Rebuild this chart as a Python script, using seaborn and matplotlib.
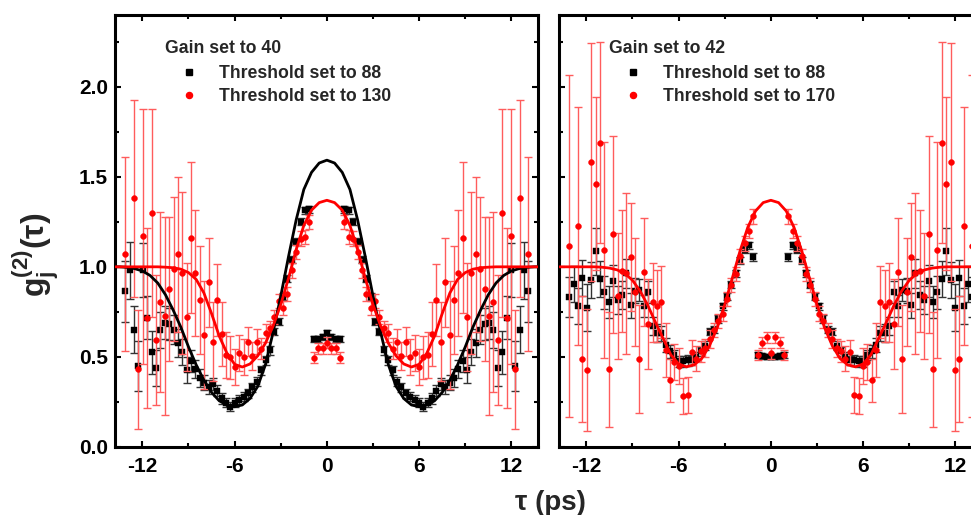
import numpy as np
import pandas as pd
import matplotlib
matplotlib.use("Agg")
import matplotlib.pyplot as plt
import seaborn as sns
from matplotlib.lines import Line2D
from matplotlib.ticker import MultipleLocator, FormatStrFormatter

# ---------------- data (negative half, mirrored: g2 is symmetric) ----------------
BIN_PS = 0.285
bin_k = np.arange(-46, 1)  # bins -46 .. 0

# Gain 40 panel
g40_thr88 = [0.865, 0.98, 0.65, 0.45, 0.985, 0.717, 0.526, 0.435, 0.647, 0.69,
             0.683, 0.65, 0.576, 0.526, 0.426, 0.476, 0.433, 0.38, 0.356, 0.333,
             0.348, 0.311, 0.27, 0.245, 0.222, 0.245, 0.26, 0.278, 0.296, 0.33,
             0.36, 0.426, 0.48, 0.537, 0.64, 0.695, 0.833, 0.935, 1.04, 1.14,
             1.25, 1.315, 1.32, 0.60, 0.60, 0.61, 0.63]
g40_thr88_err = [0.17, 0.16, 0.13, 0.14, 0.15, 0.12, 0.12, 0.10, 0.10, 0.09,
                 0.09, 0.08, 0.08, 0.07, 0.07, 0.06, 0.05, 0.05, 0.04, 0.04,
                 0.035, 0.03, 0.03, 0.025, 0.025, 0.025, 0.025, 0.025, 0.025, 0.025,
                 0.025, 0.025, 0.025, 0.025, 0.02, 0.02, 0.02, 0.02, 0.02, 0.02,
                 0.02, 0.02, 0.02, 0.018, 0.018, 0.018, 0.018]
g40_thr130 = [1.07, np.nan, 1.38, 0.43, 1.17, 0.715, 1.30, 0.593, 0.806, 0.728,
              0.878, 0.987, 1.069, 0.967, 0.722, 1.163, 0.967, 0.815, 0.62, 0.913,
              0.583, 0.815, 0.626, 0.51, 0.497, 0.444, 0.519, 0.50, 0.583, 0.504,
              0.583, 0.545, 0.63, 0.66, 0.72, 0.81, 0.77, 0.85, 0.98, 1.083,
              1.157, 1.167, 1.25, 0.495, 0.547, 0.547, 0.578]
g40_thr130_err = [0.54, 0.50, 0.55, 0.33, 0.71, 0.50, 0.58, 0.36, 0.50, 0.55,
                  0.40, 0.40, 0.43, 0.45, 0.30, 0.42, 0.35, 0.30, 0.30, 0.25,
                  0.22, 0.20, 0.18, 0.13, 0.12, 0.10, 0.10, 0.10, 0.08, 0.08,
                  0.07, 0.06, 0.05, 0.04, 0.04, 0.04, 0.04, 0.04, 0.04, 0.04,
                  0.04, 0.04, 0.04, 0.03, 0.03, 0.03, 0.03]

# Gain 42 panel
g42_thr88 = [0.833, 0.907, 0.783, 0.939, 0.772, 0.926, 1.087, 0.93, 0.858, 0.806,
             0.921, 0.815, 0.843, 0.963, 0.787, 0.867, 0.87, 0.783, 0.861, 0.67,
             0.63, 0.63, 0.565, 0.53, 0.51, 0.474, 0.474, 0.48, 0.48, 0.50,
             0.53, 0.56, 0.64, 0.65, 0.71, 0.78, 0.833, 0.90, 0.963, 1.037,
             1.096, 1.12, 1.055, 0.51, 0.505, 0.50, 0.50]
g42_thr88_err = [0.11, 0.10, 0.10, 0.10, 0.13, 0.10, 0.13, 0.10, 0.09, 0.09,
                 0.09, 0.08, 0.08, 0.08, 0.07, 0.07, 0.06, 0.06, 0.06, 0.05,
                 0.05, 0.04, 0.04, 0.035, 0.03, 0.03, 0.03, 0.03, 0.025, 0.025,
                 0.025, 0.025, 0.02, 0.02, 0.02, 0.02, 0.02, 0.02, 0.02, 0.02,
                 0.02, 0.02, 0.02, 0.015, 0.015, 0.015, 0.015]
g42_thr170 = [1.117, np.nan, 1.228, 0.49, 0.426, 1.583, 1.463, 1.691, 1.093, 0.43,
              1.18, 0.837, 0.976, 0.963, 1.056, 0.858, 0.485, 0.969, 0.68, 0.802,
              0.78, 0.806, 0.537, 0.37, 0.47, 0.45, 0.28, 0.29, 0.524, 0.49,
              0.53, 0.55, 0.60, 0.65, 0.70, 0.74, 0.82, 0.90, 0.96, 1.06,
              1.13, 1.20, 1.28, 0.51, 0.578, 0.608, 0.52]
g42_thr170_err = [0.95, 0.60, 0.66, 0.35, 0.34, 0.66, 0.48, 0.56, 0.60, 0.32,
                  0.55, 0.35, 0.34, 0.45, 0.30, 0.30, 0.30, 0.30, 0.25, 0.22,
                  0.20, 0.20, 0.15, 0.12, 0.10, 0.10, 0.10, 0.10, 0.07, 0.07,
                  0.06, 0.05, 0.05, 0.04, 0.04, 0.04, 0.04, 0.04, 0.04, 0.04,
                  0.04, 0.04, 0.04, 0.03, 0.03, 0.03, 0.03]

# fit curves, read at |tau| = 0, 0.5, ..., 13.5, 13.75
fit_tau_abs = [0, 0.5, 1, 1.5, 2, 2.5, 3, 3.5, 4, 4.5, 5, 5.5, 6, 6.5, 7, 7.5,
               8, 8.5, 9, 9.5, 10, 10.5, 11, 11.5, 12, 12.5, 13, 13.5, 13.75]
fit_g40_thr88 = [1.593, 1.577, 1.525, 1.43, 1.26, 1.055, 0.837, 0.635, 0.455, 0.335,
                 0.268, 0.232, 0.222, 0.232, 0.255, 0.302, 0.37, 0.455, 0.555, 0.665,
                 0.76, 0.845, 0.91, 0.952, 0.977, 0.99, 0.997, 1.0, 1.0]
fit_g40_thr130 = [1.37, 1.357, 1.315, 1.23, 1.095, 0.935, 0.79, 0.67, 0.575, 0.505,
                  0.46, 0.443, 0.458, 0.52, 0.615, 0.74, 0.855, 0.93, 0.968, 0.987,
                  0.995, 0.998, 1.0, 1.0, 1.0, 1.0, 1.0, 1.0, 1.0]
fit_g42_thr170 = [1.37, 1.357, 1.31, 1.22, 1.09, 0.94, 0.79, 0.66, 0.56, 0.49,
                  0.455, 0.444, 0.46, 0.51, 0.60, 0.69, 0.785, 0.865, 0.925, 0.963,
                  0.983, 0.993, 0.998, 1.0, 1.0, 1.0, 1.0, 1.0, 1.0]

x_ticks = [-12, -6, 0, 6, 12]
y_ticks = [0.0, 0.5, 1.0, 1.5, 2.0]


def mirror_vals(half):
    half = np.asarray(half, dtype=float)
    return np.concatenate([half, half[-2::-1]])


def mirror_tau(half_neg):
    h = np.asarray(half_neg, dtype=float)
    return np.concatenate([h, -h[-2::-1]])


tau = mirror_tau(bin_k * BIN_PS)
fit_tau = mirror_tau(-np.asarray(fit_tau_abs, dtype=float)[::-1])


def fit_mirror(vals):
    v = np.asarray(vals, dtype=float)
    return np.concatenate([v[::-1], v[1:]])


# ---------------- style ----------------
sns.set_theme(style="ticks")
plt.rcParams["font.family"] = ["Liberation Sans", "DejaVu Sans"]
plt.rcParams["font.weight"] = "bold"
plt.rcParams["axes.unicode_minus"] = False
plt.rcParams["mathtext.fontset"] = "custom"
plt.rcParams["mathtext.rm"] = "Liberation Sans:bold"
plt.rcParams["mathtext.bf"] = "Liberation Sans:bold"
plt.rcParams["mathtext.it"] = "Liberation Sans:bold:italic"

RED = "#ff0000"
RED_BAR = "#ff5c5c"
BLK_BAR = "#333333"

fig = plt.figure(figsize=(9.71, 5.15), dpi=100)
W, H = 971.0, 515.0
ax_w = 423 / W
ax_h = 431.7 / H
ax_b = (H - 446.7) / H
ax1 = fig.add_axes([115 / W, ax_b, ax_w, ax_h])
ax2 = fig.add_axes([559 / W, ax_b, ax_w, ax_h])


def draw_series(ax, y, err, color, ecolor, marker, size, z):
    y = mirror_vals(y)
    e = mirror_vals(err)
    ax.errorbar(tau, y, yerr=e, fmt="none", ecolor=ecolor, elinewidth=1.0,
                capsize=3.0, capthick=1.0, zorder=z)
    df = pd.DataFrame({"tau": tau, "g2": y}).dropna()
    sns.scatterplot(data=df, x="tau", y="g2", ax=ax, marker=marker, s=size,
                    color=color, edgecolor=color, linewidth=0.3, zorder=z + 1,
                    legend=False)


def draw_fit(ax, vals, color):
    df = pd.DataFrame({"tau": fit_tau, "g2": fit_mirror(vals)})
    sns.lineplot(data=df, x="tau", y="g2", ax=ax, color=color, linewidth=2.0,
                 sort=False, zorder=10, legend=False)


draw_series(ax1, g40_thr88, g40_thr88_err, "black", BLK_BAR, "s", 15, 2)
draw_series(ax1, g40_thr130, g40_thr130_err, RED, RED_BAR, "o", 18, 4)
draw_fit(ax1, fit_g40_thr88, "black")
draw_fit(ax1, fit_g40_thr130, RED)

draw_series(ax2, g42_thr88, g42_thr88_err, "black", BLK_BAR, "s", 15, 2)
draw_series(ax2, g42_thr170, g42_thr170_err, RED, RED_BAR, "o", 18, 4)
draw_fit(ax2, fit_g42_thr170, RED)

for ax in (ax1, ax2):
    ax.set_xlim(-13.78, 13.73)
    ax.set_ylim(0, 2.4)
    ax.set_xticks(x_ticks)
    ax.set_yticks(y_ticks)
    ax.xaxis.set_minor_locator(MultipleLocator(3))
    ax.yaxis.set_minor_locator(MultipleLocator(0.25))
    ax.yaxis.set_major_formatter(FormatStrFormatter("%.1f"))
    ax.tick_params(which="both", direction="in", top=True, right=True,
                   width=1.5, colors="black")
    ax.tick_params(which="major", length=4.5)
    ax.tick_params(which="minor", length=3.0)
    ax.tick_params(axis="x", which="major", pad=7.5, labelsize=15)
    ax.tick_params(axis="y", which="major", pad=5, labelsize=15)
    for lab in ax.get_xticklabels() + ax.get_yticklabels():
        lab.set_fontweight("bold")
    for sp in ax.spines.values():
        sp.set_linewidth(2.2)
        sp.set_color("black")
    ax.set_xlabel("")
    ax.set_ylabel("")
    ax.grid(False)

ax2.tick_params(axis="y", labelleft=False)

leg_font = {"weight": "bold", "size": 12.7}
handles = [Line2D([], [], marker="s", color="black", ls="none", markersize=4.0),
           Line2D([], [], marker="o", color=RED, ls="none", markersize=4.4)]

leg_kw = dict(loc="upper left", frameon=False, alignment="left",
              handlelength=2.7, handletextpad=0.35, labelspacing=0.33,
              borderpad=0, borderaxespad=0, prop=leg_font,
              title_fontproperties=leg_font)
leg1 = ax1.legend(handles, ["Threshold set to 88", "Threshold set to 130"],
                  title="Gain set to 40",
                  bbox_to_anchor=((165 - 115) / 423, (446.7 - 40) / 431.7),
                  **leg_kw)
leg2 = ax2.legend(handles, ["Threshold set to 88", "Threshold set to 170"],
                  title="Gain set to 42",
                  bbox_to_anchor=((609 - 559) / 423, (446.7 - 40) / 431.7),
                  **leg_kw)
for leg in (leg1, leg2):
    leg.set_zorder(20)
    leg._legend_box.sep = 6

fig.text(36 / W, (H - 255) / H, r"$\mathbf{g_j^{(2)}(\tau)}$", rotation=90,
         ha="center", va="center", fontsize=23, fontweight="bold")
fig.text(550 / W, (H - 503) / H, "τ (ps)", ha="center", va="center",
         fontsize=20, fontweight="bold")

fig.savefig("out.png", dpi=100)
